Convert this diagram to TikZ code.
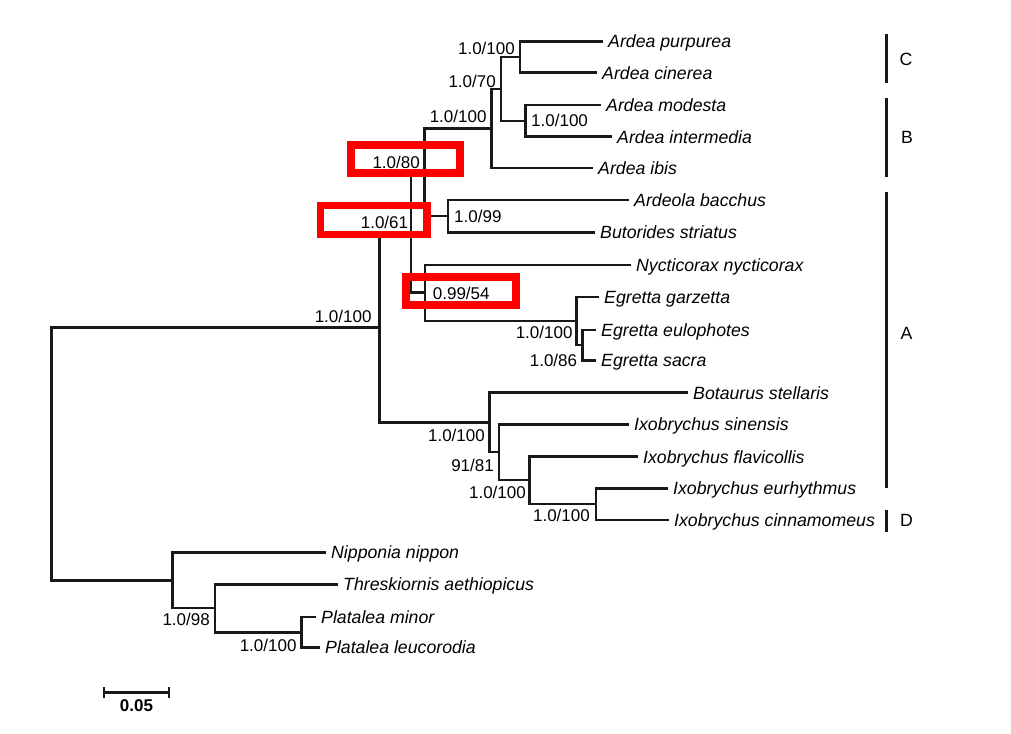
\documentclass[tikz,border=0pt]{standalone}
\usepackage{fontspec}
\setmainfont{Liberation Sans}
\begin{document}
\begin{tikzpicture}[x=1pt,y=-1pt,
  br/.style={line width=2.5pt, line cap=rect, black!90},
  tip/.style={font=\fontsize{17.7}{20}\selectfont\itshape, inner xsep=6pt, inner ysep=0pt, text height=12.7pt, text depth=0pt, anchor=west},
  sup/.style={font=\fontsize{17}{20}\selectfont, inner sep=0pt, text height=12.2pt, text depth=0pt},
  cladebar/.style={line width=3.2pt, black!90},
  cladelab/.style={font=\fontsize{17.7}{20}\selectfont, inner sep=0pt, text height=12.7pt, text depth=0pt},
  hl/.style={draw=red, line width=7.5pt, inner sep=0pt}]
\useasboundingbox (0,0) rectangle (1011,733);

% tips
\node[tip] (t1) at (602,41.5) {Ardea purpurea};
\node[tip] (t2) at (596,72.7) {Ardea cinerea};
\node[tip] (t3) at (600,105) {Ardea modesta};
\node[tip] (t4) at (611,136.7) {Ardea intermedia};
\node[tip] (t5) at (592,168) {Ardea ibis};
\node[tip] (t6) at (628,200) {Ardeola bacchus};
\node[tip] (t7) at (594,232.3) {Butorides striatus};
\node[tip] (t8) at (630,265) {Nycticorax nycticorax};
\node[tip] (t9) at (598,297) {Egretta garzetta};
\node[tip] (t10) at (595,330) {Egretta eulophotes};
\node[tip] (t11) at (595,360.5) {Egretta sacra};
\node[tip] (t12) at (687,392.7) {Botaurus stellaris};
\node[tip] (t13) at (628,424.3) {Ixobrychus sinensis};
\node[tip] (t14) at (637,456.7) {Ixobrychus flavicollis};
\node[tip] (t15) at (667,488.5) {Ixobrychus eurhythmus};
\node[tip] (t16) at (668,520) {Ixobrychus cinnamomeus};
\node[tip] (t17) at (325,552.3) {Nipponia nippon};
\node[tip] (t18) at (337,584.3) {Threskiornis aethiopicus};
\node[tip] (t19) at (315,617) {Platalea minor};
\node[tip] (t20) at (319,647.5) {Platalea leucorodia};

% internal nodes
\coordinate (npc) at (520,57);
\coordinate (nmi) at (525.7,121);
\coordinate (n70) at (501,89);
\coordinate (nA) at (491.7,128.5);
\coordinate (n99) at (448,216);
\coordinate (n80) at (424.5,172);
\coordinate (n86) at (582.7,345);
\coordinate (neg) at (576.7,321);
\coordinate (n54) at (425,292.5);
\coordinate (n61) at (411,232);
\coordinate (neur) at (596,504);
\coordinate (nflav) at (529.3,480);
\coordinate (n9181) at (499,452);
\coordinate (nbot) at (489.3,422.5);
\coordinate (nbig) at (379.5,327.7);
\coordinate (nplat) at (301.7,632.5);
\coordinate (n98) at (215,608);
\coordinate (nnip) at (172.7,580.7);
\coordinate (root) at (51.7,454);

% branches
\draw[br] (root) |- (nbig);
\draw[br] (root) |- (nnip);
\draw[br] (nbig) |- (n61);
\draw[br] (nbig) |- (nbot);
\draw[br] (n61) |- (n80);
\draw[br] (n61) |- (n54);
\draw[br] (n80) |- (nA);
\draw[br] (n80) |- (n99);
\draw[br] (nA) |- (n70);
\draw[br] (nA) |- (t5.west);
\draw[br] (n70) |- (npc);
\draw[br] (n70) |- (nmi);
\draw[br] (npc) |- (t1.west);
\draw[br] (npc) |- (t2.west);
\draw[br] (nmi) |- (t3.west);
\draw[br] (nmi) |- (t4.west);
\draw[br] (n99) |- (t6.west);
\draw[br] (n99) |- (t7.west);
\draw[br] (n54) |- (t8.west);
\draw[br] (n54) |- (neg);
\draw[br] (neg) |- (t9.west);
\draw[br] (neg) |- (n86);
\draw[br] (n86) |- (t10.west);
\draw[br] (n86) |- (t11.west);
\draw[br] (nbot) |- (t12.west);
\draw[br] (nbot) |- (n9181);
\draw[br] (n9181) |- (t13.west);
\draw[br] (n9181) |- (nflav);
\draw[br] (nflav) |- (t14.west);
\draw[br] (nflav) |- (neur);
\draw[br] (neur) |- (t15.west);
\draw[br] (neur) |- (t16.west);
\draw[br] (nnip) |- (t17.west);
\draw[br] (nnip) |- (n98);
\draw[br] (n98) |- (t18.west);
\draw[br] (n98) |- (nplat);
\draw[br] (nplat) |- (t19.west);
\draw[br] (nplat) |- (t20.west);

% support values
\node[sup, anchor=east] (s1) at (515,48.3) {1.0/100};
\node[sup, anchor=east] (s2) at (496,81) {1.0/70};
\node[sup, anchor=west] (s3) at (531,120) {1.0/100};
\node[sup, anchor=east] (s4) at (486.7,116.7) {1.0/100};
\node[sup, anchor=east] (s5) at (420,162.7) {1.0/80};
\node[sup, anchor=east] (s6) at (408.3,222.7) {1.0/61};
\node[sup, anchor=west] (s7) at (432.7,293.3) {0.99/54};
\node[sup, anchor=west] (s8) at (454,216.7) {1.0/99};
\node[sup, anchor=east] (s9) at (371.7,316.7) {1.0/100};
\node[sup, anchor=east] (s10) at (572.7,332.7) {1.0/100};
\node[sup, anchor=east] (s11) at (577.3,360) {1.0/86};
\node[sup, anchor=east] (s12) at (485,435) {1.0/100};
\node[sup, anchor=east] (s13) at (494,465) {91/81};
\node[sup, anchor=east] (s14) at (526,492.7) {1.0/100};
\node[sup, anchor=east] (s15) at (590,515) {1.0/100};
\node[sup, anchor=east] (s16) at (210,619.3) {1.0/98};
\node[sup, anchor=east] (s17) at (296.7,645) {1.0/100};

% clade bars
\coordinate (c1a) at (886.7,34);   \coordinate (c1b) at (886.7,82.7);
\coordinate (c2a) at (886.7,98.3); \coordinate (c2b) at (886.7,176.7);
\coordinate (c3a) at (886.7,191.7);\coordinate (c3b) at (886.7,488.3);
\coordinate (c4a) at (886.7,510);  \coordinate (c4b) at (886.7,531.7);
\draw[cladebar] (c1a) -- (c1b);
\draw[cladebar] (c2a) -- (c2b);
\draw[cladebar] (c3a) -- (c3b);
\draw[cladebar] (c4a) -- (c4b);
\node[cladelab] (lC) at (906,59.3) {C};
\node[cladelab] (lB) at (907,137.3) {B};
\node[cladelab] (lA) at (906.5,333.3) {A};
\node[cladelab] (lD) at (906.5,520.5) {D};

% scale bar
\coordinate (sb1) at (104,692.7);
\coordinate (sb2) at (169,692.7);
\coordinate (sb1t) at (104,687.3); \coordinate (sb1b) at (104,698);
\coordinate (sb2t) at (169,687.3); \coordinate (sb2b) at (169,698);
\draw[line width=2.5pt, black!90] (sb1) -- (sb2);
\draw[line width=2.2pt, black!90] (sb1t) -- (sb1b);
\draw[line width=2.2pt, black!90] (sb2t) -- (sb2b);
\node[sup, font=\fontsize{17}{20}\selectfont\bfseries] (sbl) at (136.5,705) {0.05};

% red highlight boxes
\node[hl, minimum width=109pt, minimum height=28pt] (h1) at (405.5,159) {};
\node[hl, minimum width=106.5pt, minimum height=29pt] (h2) at (373.75,220) {};
\node[hl, minimum width=110pt, minimum height=28pt] (h3) at (461,291) {};
\end{tikzpicture}
\end{document}
